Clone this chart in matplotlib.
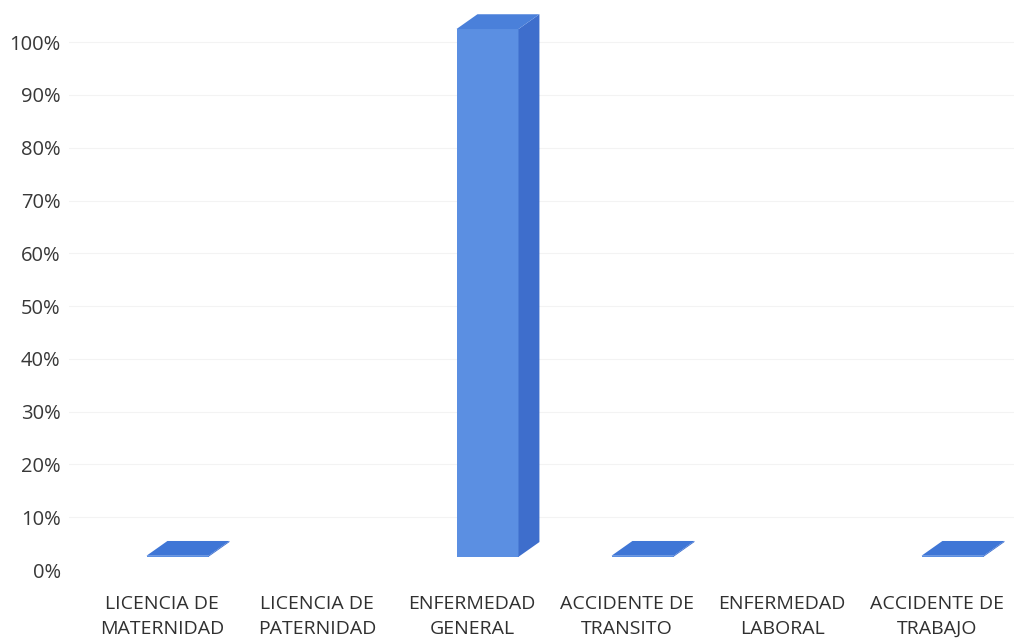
import matplotlib
matplotlib.use("Agg")
import matplotlib.pyplot as plt
from matplotlib.patches import Polygon
import numpy as np

categories = ["LICENCIA DE\nMATERNIDAD", "LICENCIA DE\nPATERNIDAD", "ENFERMEDAD\nGENERAL",
              "ACCIDENTE DE\nTRANSITO", "ENFERMEDAD\nLABORAL", "ACCIDENTE DE\nTRABAJO"]
# share of cases per category; nan = no bar drawn
values = [0.002, np.nan, 1.0, 0.002, np.nan, 0.002]
y_ticks = np.arange(0, 1.01, 0.1)
y_labels = ["{:.0f}%".format(t * 100) for t in y_ticks]

plt.rcParams['font.family'] = ['Open Sans', 'DejaVu Sans']

fig = plt.figure(figsize=(10.14, 6.43), dpi=100)
ax = fig.add_axes([69 / 1014, 73 / 643, 945.5 / 1014, 570 / 643])
ax.set_xlim(-0.6, 5.5)
ax.set_ylim(0, 1.08)

# fake 3D column geometry (data units)
shift, width = -0.10, 0.40
depth_x, depth_y = 0.135, 0.028
base = 0.025
front_col, side_col, top_col = '#5b8fe2', '#3e6ecc', '#4a80da'

for i, v in enumerate(values):
    if np.isnan(v):
        continue
    x0 = i + shift
    x1 = x0 + width
    y0 = base
    y1 = base + v
    front = Polygon([(x0, y0), (x1, y0), (x1, y1), (x0, y1)], closed=True,
                    facecolor=front_col, edgecolor='none')
    side = Polygon([(x1, y0), (x1 + depth_x, y0 + depth_y), (x1 + depth_x, y1 + depth_y), (x1, y1)],
                   closed=True, facecolor=side_col, edgecolor='none')
    top = Polygon([(x0, y1), (x1, y1), (x1 + depth_x, y1 + depth_y), (x0 + depth_x, y1 + depth_y)],
                  closed=True, facecolor=top_col if v > 0.05 else '#3f76d6', edgecolor='none')
    for p in (front, side, top):
        ax.add_patch(p)

for t in y_ticks[1:]:
    ax.axhline(t, color='#f3f3f3', lw=0.8, zorder=0)

ax.set_yticks(y_ticks)
ax.set_yticklabels(y_labels, fontsize=14.5, color='#383838')
ax.set_xticks(np.arange(len(categories)))
ax.set_xticklabels(categories, fontsize=14, color='#303030', linespacing=1.5)
ax.tick_params(axis='both', length=0)
ax.tick_params(axis='y', pad=6)
ax.tick_params(axis='x', pad=18)
for s in ax.spines.values():
    s.set_visible(False)

fig.savefig('out.png', dpi=100)
